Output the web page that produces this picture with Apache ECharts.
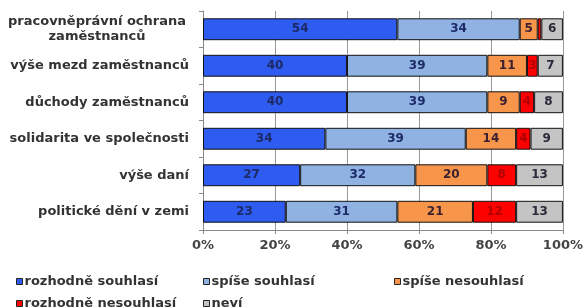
<!DOCTYPE html>
<html>
<head>
<meta charset="utf-8">
<script src="https://cdn.jsdelivr.net/npm/echarts@6/dist/echarts.min.js"></script>
<style>
html,body{margin:0;padding:0;background:#fff;}
#chart{width:586px;height:308px;}
</style>
</head>
<body>
<div id="chart"></div>
<script>
const categories = [
  'pracovněprávní ochrana\nzaměstnanců',
  'výše mezd zaměstnanců',
  'důchody zaměstnanců',
  'solidarita ve společnosti',
  'výše daní',
  'politické dění v zemi'
];
const seriesNames = ['rozhodně souhlasí','spíše souhlasí','spíše nesouhlasí','rozhodně nesouhlasí','neví'];
const rozhodneSouhlasi   = [54, 40, 40, 34, 27, 23];
const spiseSouhlasi      = [34, 39, 39, 39, 32, 31];
const spiseNesouhlasi    = [5, 11, 9, 14, 20, 21];
const rozhodneNesouhlasi = [1, 3, 4, 4, 8, 12];
const nevi               = [6, 7, 8, 9, 13, 13];
const xTicks = [0, 20, 40, 60, 80, 100];

const values = [rozhodneSouhlasi, spiseSouhlasi, spiseNesouhlasi, rozhodneNesouhlasi, nevi];
const colors = ['#2f5cf0', '#8fb2e3', '#f7964a', '#ff0000', '#c4c4c4'];
const labelColors = ['#1c2a66', '#1c2a66', '#3a2030', '#b00000', '#2a2a3a'];
const FONT = 'DejaVu Sans';

const chart = echarts.init(document.getElementById('chart'), null, {renderer: 'canvas'});

const series = seriesNames.map((name, i) => ({
  name: name,
  type: 'bar',
  stack: 'total',
  barWidth: '60%',
  data: values[i],
  itemStyle: {color: colors[i], borderColor: '#111', borderWidth: 1},
  label: {
    show: true,
    position: 'inside',
    color: labelColors[i],
    fontFamily: FONT,
    fontSize: 12,
    fontWeight: 'bold',
    formatter: p => (p.value >= 2 ? String(p.value) : '')
  }
}));

const legendCommon = {
  orient: 'horizontal',
  icon: 'rect',
  itemWidth: 6,
  itemHeight: 6,
  itemGap: 0,
  textStyle: {fontFamily: FONT, fontSize: 13, fontWeight: 'bold', color: '#333', padding: [0, 0, 0, -3]},
  selectedMode: false
};
const legendItem = (name, i) => ({name: name, itemStyle: {color: colors[i], borderColor: '#222', borderWidth: 1}});

chart.setOption({
  animation: false,
  grid: {left: 203, right: 22, top: 11, bottom: 78, containLabel: false},
  xAxis: {
    type: 'value',
    min: 0, max: 100, interval: 20,
    axisLine: {show: true, lineStyle: {color: '#888'}},
    axisTick: {show: true, length: 4, lineStyle: {color: '#888'}},
    splitLine: {show: true, lineStyle: {color: '#999', width: 1}},
    axisLabel: {
      fontFamily: FONT, fontSize: 13, fontWeight: 'bold', color: '#444', margin: 9,
      formatter: v => (xTicks.indexOf(v) >= 0 ? v + '%' : '')
    }
  },
  yAxis: {
    type: 'category',
    inverse: true,
    data: categories,
    axisLine: {show: true, lineStyle: {color: '#888'}},
    axisTick: {show: true, length: 4, lineStyle: {color: '#888'}},
    axisLabel: {
      fontFamily: FONT, fontSize: 13, fontWeight: 'bold', color: '#333', margin: 14,
      formatter: v => {
        if (v.indexOf('\n') >= 0) {
          return v.split('\n').map(s => '{c|' + s + '}').join('\n');
        }
        return v;
      },
      rich: {c: {fontFamily: FONT, fontSize: 13, fontWeight: 'bold', color: '#333', width: 184, align: 'center', lineHeight: 15}}
    }
  },
  legend: [
    Object.assign({}, legendCommon, {left: 11, top: 270, data: [legendItem(seriesNames[0], 0)]}),
    Object.assign({}, legendCommon, {left: 198, top: 270, data: [legendItem(seriesNames[1], 1)]}),
    Object.assign({}, legendCommon, {left: 389, top: 270, data: [legendItem(seriesNames[2], 2)]}),
    Object.assign({}, legendCommon, {left: 11, top: 292, data: [legendItem(seriesNames[3], 3)]}),
    Object.assign({}, legendCommon, {left: 198, top: 292, data: [legendItem(seriesNames[4], 4)]})
  ],
  series: series
});
</script>
</body>
</html>
